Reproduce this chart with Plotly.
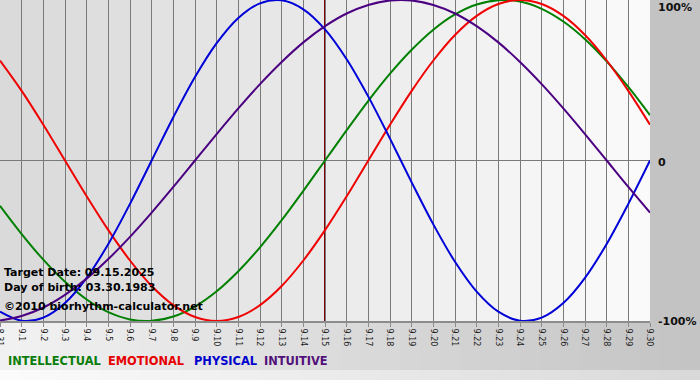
import plotly.graph_objects as go

days = ["8.31"] + [f"9.{i}" for i in range(1, 31)]
intellectual = [-0.282, -0.458, -0.618, -0.756, -0.866, -0.945, -0.990, -0.999, -0.972, -0.910,
                -0.815, -0.690, -0.541, -0.372, -0.189, 0.000, 0.189, 0.372, 0.541, 0.690,
                0.815, 0.910, 0.972, 0.999, 0.990, 0.945, 0.866, 0.756, 0.618, 0.458, 0.282]
emotional = [0.623, 0.434, 0.223, 0.000, -0.223, -0.434, -0.623, -0.782, -0.901, -0.975,
             -1.000, -0.975, -0.901, -0.782, -0.623, -0.434, -0.223, 0.000, 0.223, 0.434,
             0.623, 0.782, 0.901, 0.975, 1.000, 0.975, 0.901, 0.782, 0.623, 0.434, 0.223]
physical = [-0.942, -0.998, -0.979, -0.888, -0.731, -0.520, -0.270, 0.000, 0.270, 0.520,
            0.731, 0.888, 0.979, 0.998, 0.942, 0.817, 0.631, 0.398, 0.136, -0.136,
            -0.398, -0.631, -0.817, -0.942, -0.998, -0.979, -0.888, -0.731, -0.520, -0.270, 0.000]
intuitive = [-0.997, -0.969, -0.916, -0.837, -0.736, -0.614, -0.476, -0.325, -0.165, 0.000,
             0.165, 0.325, 0.476, 0.614, 0.736, 0.837, 0.916, 0.969, 0.997, 0.997,
             0.969, 0.916, 0.837, 0.736, 0.614, 0.476, 0.325, 0.165, 0.000, -0.165, -0.325]
target_day = "9.15"
series_names = ["INTELLECTUAL", "EMOTIONAL", "PHYSICAL", "INTUITIVE"]
y_labels = ["100%", "0", "-100%"]
info_lines = ["Target Date: 09.15.2025", "Day of birth: 03.30.1983", "©2010 biorhythm-calculator.net"]

W, H = 700, 380
L, R, T, B = 0, 50, 0, 59
PW, PH = W - L - R, H - T - B

colors = {"INTELLECTUAL": "#008000", "EMOTIONAL": "#f00000", "PHYSICAL": "#0000d8", "INTUITIVE": "#4b0082"}
text_colors = {"INTELLECTUAL": "#0a7d0a", "EMOTIONAL": "#e60000", "PHYSICAL": "#0000cc", "INTUITIVE": "#52107a"}

x = list(range(len(days)))
fig = go.Figure()
for name, vals in zip(series_names, [intellectual, emotional, physical, intuitive]):
    fig.add_trace(go.Scatter(x=x, y=vals, mode="lines", name=name,
                             line=dict(color=colors[name], width=2, shape="spline", smoothing=1.0),
                             hoverinfo="skip"))

def px2paper_x(px):
    return (px - L) / PW

def px2paper_y(py):
    return (H - B - py) / PH

def lerp(c1, c2, t):
    return "#%02x%02x%02x" % tuple(int(round(a + (b - a) * t)) for a, b in zip(c1, c2))

shapes = []
n = len(days) - 1
for i in range(n):
    c = lerp((0xd9, 0xd9, 0xd9), (0xfb, 0xfb, 0xfb), (i + 0.5) / n)
    shapes.append(dict(type="rect", xref="x", yref="paper", x0=i, x1=i + 1, y0=0, y1=1,
                       fillcolor=c, line=dict(width=0), layer="below"))
nb = 35
for i in range(nb):
    t = (i + 0.5) / nb
    x0, x1 = W * i / nb, W * (i + 1) / nb + 0.5
    shapes.append(dict(type="rect", xref="paper", yref="paper",
                       x0=px2paper_x(x0), x1=px2paper_x(x1),
                       y0=px2paper_y(370), y1=px2paper_y(H - B),
                       fillcolor=lerp((0xf2, 0xf2, 0xf2), (0xc3, 0xc3, 0xc3), t),
                       line=dict(width=0), layer="below"))
    shapes.append(dict(type="rect", xref="paper", yref="paper",
                       x0=px2paper_x(x0), x1=px2paper_x(x1),
                       y0=px2paper_y(H), y1=px2paper_y(370),
                       fillcolor=lerp((0xfc, 0xfc, 0xfc), (0xd8, 0xd8, 0xd8), t),
                       line=dict(width=0), layer="below"))
ti = days.index(target_day)
shapes.append(dict(type="line", xref="x", yref="paper", x0=ti, x1=ti, y0=0, y1=1,
                   line=dict(color="#800000", width=2), layer="between"))

annotations = []
for lab, py in zip(y_labels, [7, 162, 321]):
    annotations.append(dict(xref="paper", yref="paper", x=px2paper_x(656), y=px2paper_y(py),
                            xanchor="left", yanchor="middle", text=f"<b>{lab}</b>", showarrow=False,
                            font=dict(family="DejaVu Sans", size=11, color="#111111")))
for txt, py in zip(info_lines, [272, 287, 306]):
    annotations.append(dict(xref="paper", yref="paper", x=px2paper_x(2), y=px2paper_y(py),
                            xanchor="left", yanchor="middle", text=f"<b>{txt}</b>", showarrow=False,
                            font=dict(family="DejaVu Sans", size=11, color="#000000")))
for name, px in zip(series_names, [6, 106, 192, 262]):
    annotations.append(dict(xref="paper", yref="paper", x=px2paper_x(px), y=px2paper_y(361),
                            xanchor="left", yanchor="middle", text=f"<b>{name}</b>", showarrow=False,
                            font=dict(family="DejaVu Sans", size=11.4, color=text_colors[name])))

fig.update_layout(
    width=W, height=H, margin=dict(l=L, r=R, t=T, b=B, pad=0, autoexpand=False),
    paper_bgcolor="#c3c3c3", plot_bgcolor="rgba(0,0,0,0)",
    showlegend=False, shapes=shapes, annotations=annotations,
    xaxis=dict(range=[0, n], tickmode="array", tickvals=x, ticktext=days, tickangle=90,
               showgrid=True, gridcolor="#7a7a7a", gridwidth=1,
               showline=True, linecolor="#8c8c8c", linewidth=2,
               ticks="outside", ticklen=4, tickcolor="#8c8c8c",
               tickfont=dict(family="DejaVu Sans", size=8, color="#222222"),
               ticklabeloverflow="allow",
               zeroline=False, fixedrange=True, automargin=False),
    yaxis=dict(range=[-1, 1], showgrid=False, showticklabels=False, automargin=False,
               zeroline=True, zerolinecolor="#7a7a7a", zerolinewidth=1, fixedrange=True),
)
fig.write_html("out.html", config={"displayModeBar": False},
               post_script="document.body.style.margin='0';document.body.style.overflow='hidden';")
